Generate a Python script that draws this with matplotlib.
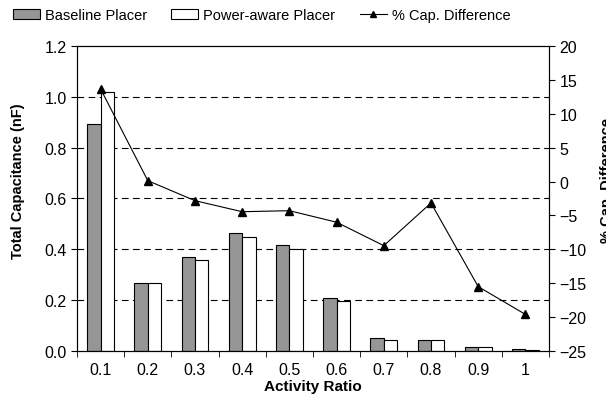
import numpy as np
import matplotlib
matplotlib.use("Agg")
import matplotlib.pyplot as plt
from matplotlib.patches import Patch
from matplotlib.lines import Line2D

plt.rcParams['font.family'] = ['Liberation Sans', 'DejaVu Sans']

ratios = ['0.1', '0.2', '0.3', '0.4', '0.5', '0.6', '0.7', '0.8', '0.9', '1']
baseline = [0.894, 0.268, 0.371, 0.464, 0.418, 0.208, 0.052, 0.043, 0.017, 0.008]
power_aware = [1.02, 0.268, 0.358, 0.447, 0.401, 0.198, 0.043, 0.043, 0.017, 0.004]
cap_diff = [13.66, 0.13, -2.82, -4.45, -4.3, -6.0, -9.46, -3.16, -15.5, -19.6]

fig = plt.figure(figsize=(6.06, 4.06), dpi=100)
ax = fig.add_axes([77 / 606, 1 - 352 / 406, 472 / 606, 305 / 406])
x = np.arange(len(ratios))
w = 0.285

ax.bar(x - w / 2, baseline, w, color='#969696', edgecolor='black', linewidth=0.8, zorder=2)
ax.bar(x + w / 2, power_aware, w, color='white', edgecolor='black', linewidth=0.8, zorder=2)

ax.set_xlim(-0.5, len(ratios) - 0.5)
ax.set_ylim(0, 1.2)
ax.set_yticks(np.arange(0, 1.21, 0.2))
ax.set_yticklabels(['%.1f' % v for v in np.arange(0, 1.21, 0.2)])
for v in np.arange(0.2, 1.01, 0.2):
    ax.axhline(v, color='black', linestyle=(0, (6, 4)), linewidth=0.8, zorder=1)
ax.set_xticks(x)
ax.set_xticklabels(ratios)
ax.set_xticks(np.arange(-0.5, len(ratios), 1), minor=True)
ax.tick_params(axis='x', which='major', length=0, labelsize=11.5, pad=8)
ax.tick_params(axis='x', which='minor', length=4, direction='out')
ax.tick_params(axis='y', labelsize=11.5, length=4, direction='out')
for s in ax.spines.values():
    s.set_linewidth(0.8)

ax.set_xlabel('Activity Ratio', fontsize=11, fontweight='bold', labelpad=1)
ax.set_ylabel('Total Capacitance (nF)', fontsize=10.5, fontweight='bold')
ax.yaxis.set_label_coords((25 - 77) / 472, (352 - 181) / 305)

ax2 = ax.twinx()
ax2.plot(x, cap_diff, color='black', linewidth=0.8, marker='^', markersize=6, zorder=3)
ax2.set_ylim(-25, 20)
ax2.set_yticks(np.arange(-25, 21, 5))
ax2.tick_params(axis='y', labelsize=11.5, length=4, direction='out')
# the reference cuts this label off at the right edge
fig.text(600 / 606, 1 - 181 / 406, '% Cap. Difference', rotation=90, fontsize=10.5,
         fontweight='bold', ha='left', va='center')

handles = [
    Patch(facecolor='#969696', edgecolor='black', linewidth=0.8, label='Baseline Placer'),
    Patch(facecolor='white', edgecolor='black', linewidth=0.8, label='Power-aware Placer'),
    Line2D([0], [0], color='black', linewidth=0.8, marker='^', markersize=5, label='% Cap. Difference'),
]
fig.legend(handles=handles, loc='upper left', bbox_to_anchor=(0, 1.01), ncol=3,
           frameon=False, fontsize=10.5, handlelength=1.85, handleheight=0.6, columnspacing=1.65,
           handletextpad=0.35)

fig.savefig('out.png', dpi=100)
